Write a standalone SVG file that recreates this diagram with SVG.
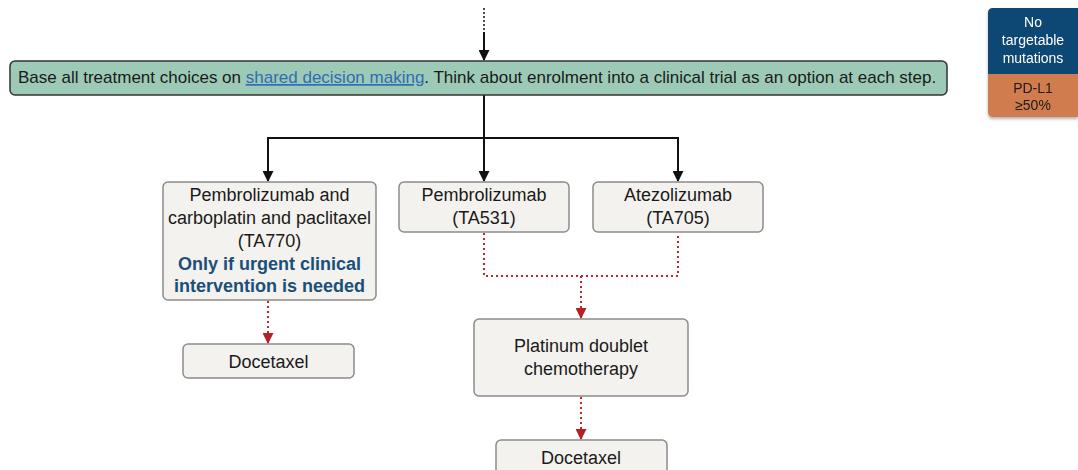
<svg xmlns="http://www.w3.org/2000/svg" width="1078" height="470" viewBox="0 0 1078 470">
  <style>
    .t { font-family: "Liberation Sans", Arial, sans-serif; font-size: 18px; fill: #1a1a1a; text-anchor: middle; }
    .hd { font-family: "Liberation Sans", Arial, sans-serif; font-size: 17px; fill: #1a1a1a; }
    .node { fill: #f4f2ee; stroke: #8c8c8c; stroke-width: 1.5; }
    .solid { fill: none; stroke: #111; stroke-width: 2; }
    .dot { fill: none; stroke: #c0272d; stroke-width: 2; stroke-dasharray: 2 3; }
    .em { fill: #1a4f7a; font-weight: bold; }
    .lg { font-family: "Liberation Sans", Arial, sans-serif; font-size: 14px; text-anchor: middle; }
  </style>
  <defs>
    <marker id="arrBlack" viewBox="0 0 10 10" refX="9" refY="5" markerWidth="5.5" markerHeight="5.5" orient="auto" markerUnits="strokeWidth">
      <path d="M0,0 L10,5 L0,10 z" fill="#111"/>
    </marker>
    <marker id="arrRed" viewBox="0 0 10 10" refX="9" refY="5" markerWidth="5.5" markerHeight="5.5" orient="auto" markerUnits="strokeWidth">
      <path d="M0,0 L10,5 L0,10 z" fill="#b32025"/>
    </marker>
    <filter id="shadow" x="-10%" y="-10%" width="130%" height="130%">
      <feDropShadow dx="0" dy="2" stdDeviation="1.5" flood-color="#000" flood-opacity="0.3"/>
    </filter>
  </defs>

  <!-- connectors -->
  <g id="connectors">
    <path d="M484,8 V32" fill="none" stroke="#111" stroke-width="1.5" stroke-dasharray="2 2"/>
    <path class="solid" d="M484,32 V60" marker-end="url(#arrBlack)"/>
    <path class="solid" d="M484,95 V138"/>
    <path class="solid" d="M268,138 H678"/>
    <path class="solid" d="M268,137 V181" marker-end="url(#arrBlack)"/>
    <path class="solid" d="M484,137 V181" marker-end="url(#arrBlack)"/>
    <path class="solid" d="M678,137 V181" marker-end="url(#arrBlack)"/>
    <path class="dot" d="M268,301 V343" marker-end="url(#arrRed)"/>
    <path class="dot" d="M484,233 V276 H678 V233"/>
    <path class="dot" d="M581,276 V318" marker-end="url(#arrRed)"/>
    <path class="dot" d="M581,397 V439" marker-end="url(#arrRed)"/>
  </g>

  <!-- header banner -->
  <g id="banner">
    <rect x="10" y="61" width="937" height="34" rx="5" fill="#9dcab6" stroke="#333" stroke-width="1.5"/>
    <text class="hd" x="18" y="83">Base all treatment choices on <tspan fill="#2f6db5" text-decoration="underline">shared decision making</tspan>. Think about enrolment into a clinical trial as an option at each step.</text>
  </g>

  <g id="node-pembro-chemo">
    <rect class="node" x="163" y="182" width="213" height="118" rx="5"/>
    <text class="t" x="269.5" y="201">Pembrolizumab and</text>
    <text class="t" x="269.5" y="224">carboplatin and paclitaxel</text>
    <text class="t" x="269.5" y="247">(TA770)</text>
    <text class="t em" x="269.5" y="270">Only if urgent clinical</text>
    <text class="t em" x="269.5" y="292">intervention is needed</text>
  </g>

  <g id="node-pembro">
    <rect class="node" x="399" y="182" width="170" height="50" rx="5"/>
    <text class="t" x="484" y="201">Pembrolizumab</text>
    <text class="t" x="484" y="224">(TA531)</text>
  </g>

  <g id="node-atezo">
    <rect class="node" x="593" y="182" width="170" height="50" rx="5"/>
    <text class="t" x="678" y="201">Atezolizumab</text>
    <text class="t" x="678" y="224">(TA705)</text>
  </g>

  <g id="node-docetaxel-left">
    <rect class="node" x="183" y="344" width="171" height="34" rx="5"/>
    <text class="t" x="268.5" y="368">Docetaxel</text>
  </g>

  <g id="node-platinum">
    <rect class="node" x="474" y="319" width="214" height="77" rx="5"/>
    <text class="t" x="581" y="352">Platinum doublet</text>
    <text class="t" x="581" y="375">chemotherapy</text>
  </g>

  <g id="node-docetaxel-right">
    <rect class="node" x="496" y="440" width="171" height="40" rx="5"/>
    <text class="t" x="581" y="464">Docetaxel</text>
  </g>

  <!-- key -->
  <g id="legend" filter="url(#shadow)">
    <path d="M988,74 V13 Q988,8 993,8 H1078 V74 z" fill="#0f4673"/>
    <path d="M988,74 H1078 V117 H993 Q988,117 988,112 z" fill="#d17b4f"/>
    <text class="lg" x="1033" y="27" fill="#fff">No</text>
    <text class="lg" x="1033" y="45" fill="#fff">targetable</text>
    <text class="lg" x="1033" y="63" fill="#fff">mutations</text>
    <text class="lg" x="1033" y="93" fill="#1a1a1a">PD-L1</text>
    <text class="lg" x="1033" y="110" fill="#1a1a1a">≥50%</text>
  </g>
</svg>
